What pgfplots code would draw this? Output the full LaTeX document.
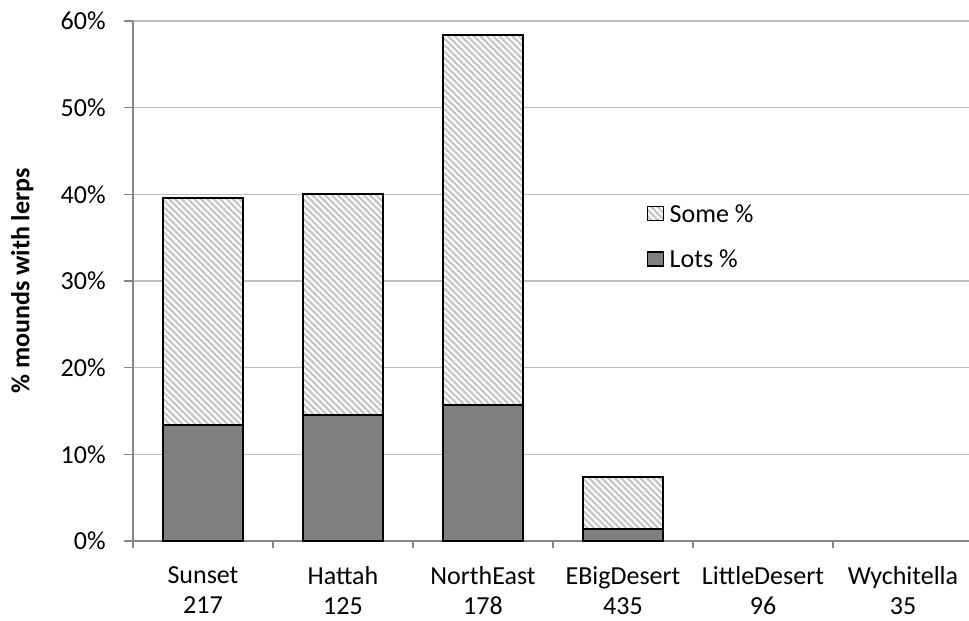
\documentclass[border=0pt]{standalone}
\usepackage{pgfplots}
\pgfplotsset{compat=1.18}
\usepackage{fontspec}
\setmainfont{Carlito}
\usetikzlibrary{patterns.meta}

\definecolor{gridgray}{HTML}{BFBFBF}
\definecolor{axisgray}{HTML}{868686}
\definecolor{lotsgray}{HTML}{808080}
\definecolor{stripegray}{HTML}{C4C4C4}

\begin{document}
\begin{tikzpicture}
\begin{axis}[
    name=ax,
    scale only axis,
    width=630pt, height=390pt,
    ybar stacked,
    bar width=60pt,
    xmin=-0.5, xmax=5.5,
    ymin=0, ymax=60,
    ytick={0,10,...,60},
    yticklabel={\pgfmathprintnumber{\tick}\%},
    /pgf/number format/assume math mode=true,
    xtick={0,...,5},
    xticklabels={{Sunset\\217},{Hattah\\125},{NorthEast\\178},{EBigDesert\\435},{LittleDesert\\96},{Wychitella\\35}},
    minor xtick={-0.5,0.5,...,5.5},
    major x tick style={draw=none},
    minor x tick style={draw=axisgray, line width=0.8pt},
    y tick style={draw=axisgray, line width=0.8pt},
    tick align=outside,
    major tick length=7pt,
    minor tick length=5.5pt,
    ymajorgrids,
    grid style={draw=gridgray, line width=1pt},
    axis x line*=bottom,
    axis y line*=left,
    axis line style={draw=axisgray, line width=1pt},
    x axis line style={-},
    y axis line style={-},
    ticklabel style={font=\fontsize{19.5}{22.5}\selectfont},
    xticklabel style={align=center, inner ysep=1pt, yshift=-10.75pt},
    yticklabel style={xshift=-10pt},
    ylabel={\bfseries \% mounds with lerps},
    every axis y label/.style={at={(axis description cs:-0.1317,0.5)}, rotate=90, anchor=center,
        font=\fontsize{19.5}{23}\selectfont},
    legend cell align=left,
    legend style={draw=none, fill=none, at={(rel axis cs:0.611,0.648)}, anchor=north west,
        font=\fontsize{19.5}{23}\selectfont, row sep=19pt, inner sep=0pt,
        nodes={inner sep=0pt, inner xsep=4.5pt}},
    legend image code/.code={\draw[#1, line width=0.9pt] (0pt,-5pt) rectangle (12pt,5.5pt);},
    reverse legend,
    clip=false,
]
% Lots %
\addplot+[fill=lotsgray, draw=black, line width=1.3pt] coordinates {
    (0,13.4) (1,14.5) (2,15.7) (3,1.4) (4,0) (5,0)};
\addlegendentry{Lots \%}
% Some % (stacked on top)
\addplot+[fill=white, draw=black, line width=1.3pt,
    postaction={pattern={Lines[angle=-45,distance=3.4pt,line width=1.6pt]}, pattern color=stripegray}]
    coordinates {
    (0,26.2) (1,25.5) (2,42.7) (3,6.0) (4,0) (5,0)};
\addlegendentry{Some \%}
\end{axis}
\pgfresetboundingbox
\path[use as bounding box] ([xshift=-99.75pt,yshift=-59.25pt]ax.south west) rectangle ([xshift=627pt,yshift=405.75pt]ax.south west);
\end{tikzpicture}
\end{document}
